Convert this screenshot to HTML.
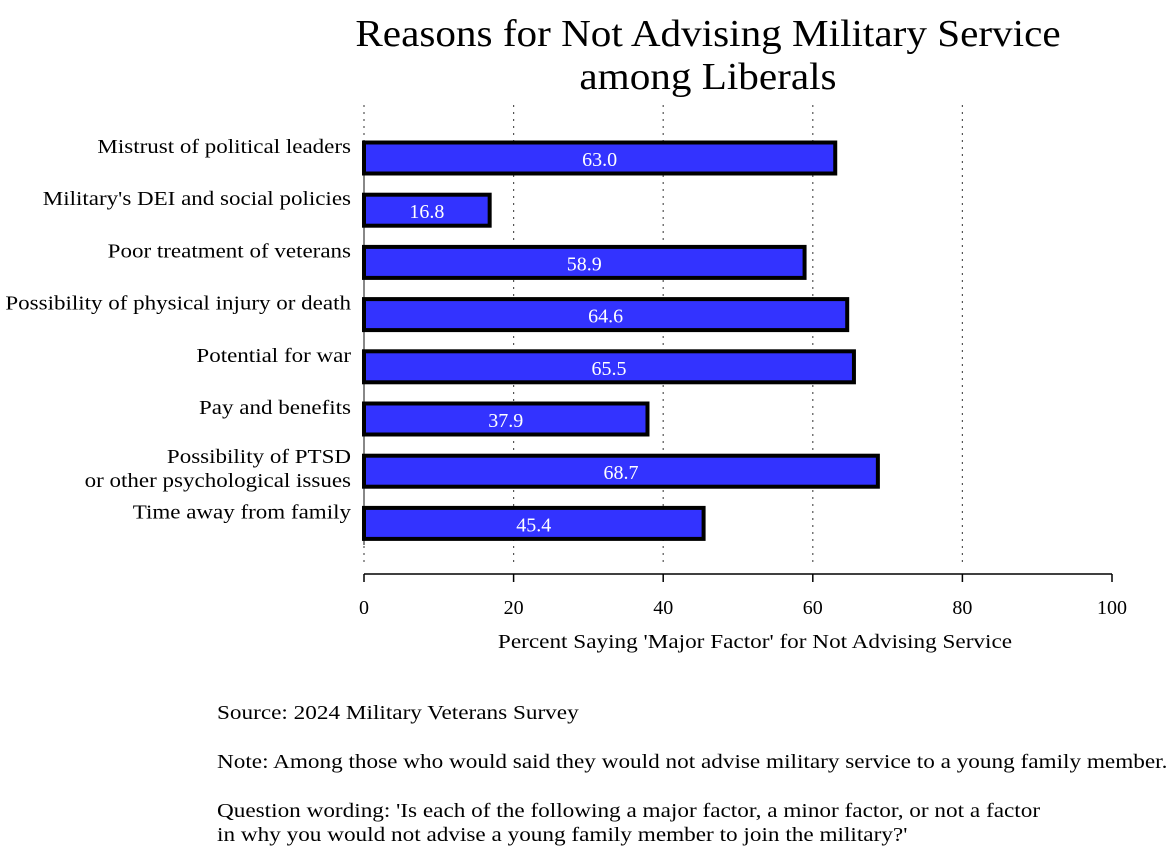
<!DOCTYPE html>
<html><head><meta charset="utf-8"><style>
body{margin:0;background:#fff;}
svg text{font-family:"Liberation Serif",serif;}
</style></head><body>
<svg width="1171" height="852" viewBox="0 0 1171 852" xmlns="http://www.w3.org/2000/svg">
<text class="sc" data-s="1.083" x="708" y="46" font-size="38" text-anchor="middle">Reasons for Not Advising Military Service</text>
<text class="sc" data-s="1.083" x="708" y="89" font-size="38" text-anchor="middle">among Liberals</text>
<g id="grid"></g>
<line x1="364" y1="140" x2="364" y2="545" stroke="#888" stroke-width="2"/>
<g id="bars"></g>
<line x1="364" y1="574" x2="1112" y2="574" stroke="#000" stroke-width="1.5"/>
<g id="xticks"></g>
<text class="sc" data-s="1.16" x="755" y="648" font-size="20" text-anchor="middle">Percent Saying 'Major Factor' for Not Advising Service</text>
<text class="sc" data-s="1.16" x="217" y="719" font-size="20">Source: 2024 Military Veterans Survey</text>
<text class="sc" data-s="1.16" x="217" y="768" font-size="20">Note: Among those who would said they would not advise military service to a young family member.</text>
<text class="sc" data-s="1.16" x="217" y="817" font-size="20">Question wording: 'Is each of the following a major factor, a minor factor, or not a factor</text>
<text class="sc" data-s="1.16" x="217" y="841" font-size="20">in why you would not advise a young family member to join the military?'</text>
</svg>
<script>
const categories=[["Mistrust of political leaders"],["Military's DEI and social policies"],["Poor treatment of veterans"],["Possibility of physical injury or death"],["Potential for war"],["Pay and benefits"],["Possibility of PTSD","or other psychological issues"],["Time away from family"]];
const values=[63.0,16.8,58.9,64.6,65.5,37.9,68.7,45.4];
const tickValues=[0,20,40,60,80,100];
const NS="http://www.w3.org/2000/svg";
const x=v=>364+v*7.48;
const y=i=>158+i*52.2;
function mk(tag,attrs,parent){const e=document.createElementNS(NS,tag);for(const k in attrs)e.setAttribute(k,attrs[k]);parent.appendChild(e);return e;}
const grid=document.getElementById('grid'),bars=document.getElementById('bars'),xt=document.getElementById('xticks');
tickValues.forEach(t=>{
 if(t<100){const g=mk('line',{x1:x(t),y1:105,x2:x(t),y2:565,stroke:'#555','stroke-width':1.2,'stroke-dasharray':'2 5'},grid);
 
 }
 const tk=mk('line',{x1:x(t),y1:574,x2:x(t),y2:582,stroke:'#000','stroke-width':1.5},xt);
 
 
 const tl=mk('text',{x:x(t),y:614,'font-size':20,'text-anchor':'middle'},xt);
 tl.textContent=t;
 
 
});
values.forEach((v,i)=>{
 const r=mk('rect',{x:x(0),y:y(i)-15.5,width:x(v)-x(0),height:31,fill:'#3333ff',stroke:'#000','stroke-width':4},bars);
 
 
 const t=mk('text',{x:(x(0)+x(v))/2,y:y(i)+8,'font-size':20,fill:'#fff','text-anchor':'middle'},bars);
 t.textContent=v.toFixed(1);
 
 
 const lines=categories[i];
 lines.forEach((s,j)=>{
  const yy=lines.length>1?y(i)+4+(j-0.5)*24:y(i)-5;
  const c=mk('text',{x:351,y:yy,'font-size':20,'text-anchor':'end',class:'sc','data-s':1.15},bars);
  c.textContent=s;
  
  
 });
});
document.querySelectorAll('text.sc').forEach(t=>{
 const s=parseFloat(t.getAttribute('data-s'));
 const l=t.getComputedTextLength();
 t.setAttribute('textLength',l*s);
 t.setAttribute('lengthAdjust','spacingAndGlyphs');
});
</script>
</body></html>
